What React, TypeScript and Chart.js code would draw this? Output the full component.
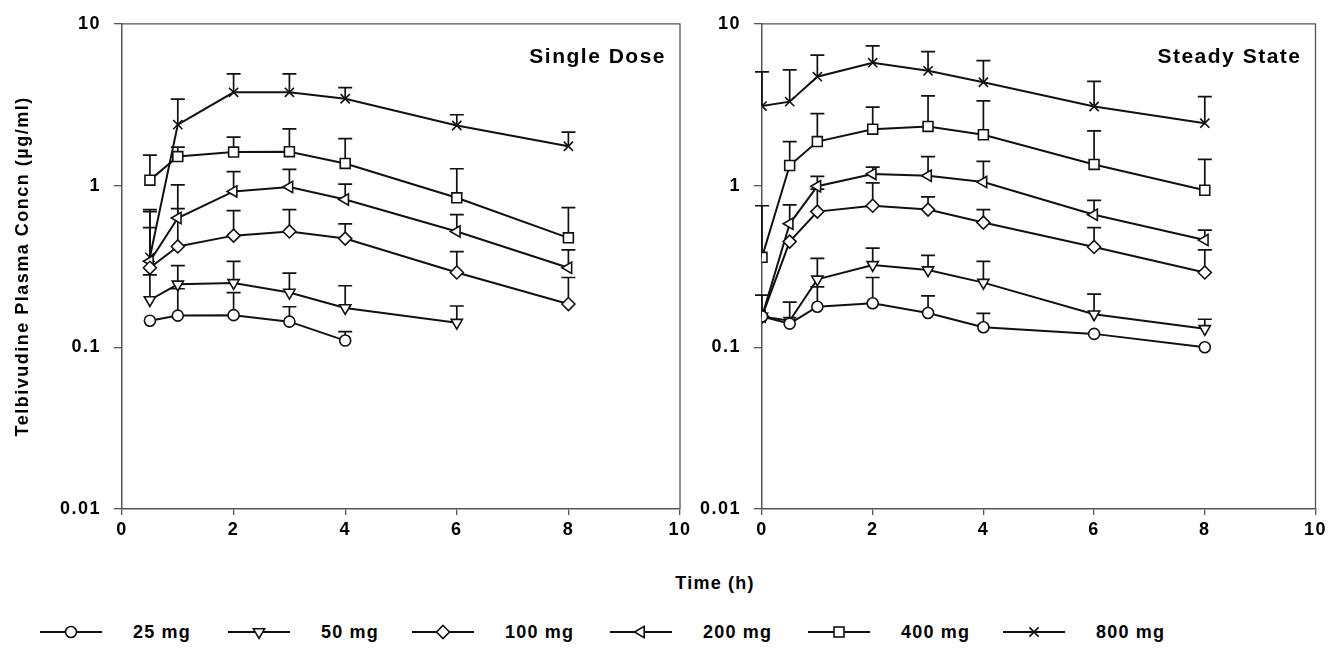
import React, { useEffect, useRef } from 'react';
import { Chart, registerables } from 'chart.js';

Chart.register(...registerables);

// ---------- data ----------
const doseLabels = ['25 mg', '50 mg', '100 mg', '200 mg', '400 mg', '800 mg'];
const yTickValues = [0.01, 0.1, 1, 10];
const yTickLabels = ['0.01', '0.1', '1', '10'];
const xTickStep = 2;
const yTitle = 'Telbivudine Plasma Concn (\u00b5g/ml)';
const xTitle = 'Time (h)';

// Single dose
const singleTimes = [0.5, 1, 2, 3, 4, 6, 8];
const single25Mean = [0.146, 0.157, 0.158, 0.144, 0.11, null, null];
const single25Upper = [null, 0.23, 0.218, 0.178, 0.125, null, null];
const single50Mean = [0.196, 0.245, 0.25, 0.218, 0.175, 0.142, null];
const single50Upper = [0.28, 0.32, 0.34, 0.287, 0.24, 0.18, null];
const single100Mean = [0.31, 0.42, 0.49, 0.52, 0.47, 0.29, 0.185];
const single100Upper = [0.55, 0.72, 0.7, 0.71, 0.58, 0.39, 0.27];
const single200Mean = [0.34, 0.63, 0.92, 0.98, 0.82, 0.52, 0.31];
const single200Upper = [0.69, 1.01, 1.22, 1.26, 1.02, 0.66, 0.4];
const single400Mean = [1.08, 1.51, 1.61, 1.62, 1.37, 0.84, 0.475];
const single400Upper = [1.54, 1.73, 1.99, 2.24, 1.95, 1.27, 0.73];
const single800Mean = [0.36, 2.38, 3.77, 3.77, 3.44, 2.35, 1.75];
const single800Upper = [0.71, 3.42, 4.9, 4.9, 4.03, 2.74, 2.14];

// Steady state
const steadyTimes = [0, 0.5, 1, 2, 3, 4, 6, 8];
const steady25Mean = [0.155, 0.14, 0.178, 0.187, 0.163, 0.133, 0.121, 0.1];
const steady25Upper = [null, null, 0.236, 0.27, 0.208, 0.162, null, null];
const steady50Mean = [0.155, 0.146, 0.263, 0.323, 0.3, 0.251, 0.16, 0.13];
const steady50Upper = [null, 0.19, 0.355, 0.41, 0.37, 0.34, 0.213, 0.149];
const steady100Mean = [0.155, 0.45, 0.69, 0.75, 0.71, 0.59, 0.417, 0.29];
const steady100Upper = [null, null, 0.95, 1.04, 0.85, 0.71, 0.55, 0.4];
const steady200Mean = [0.155, 0.58, 0.99, 1.18, 1.15, 1.05, 0.66, 0.46];
const steady200Upper = [0.21, 0.76, 1.14, 1.3, 1.51, 1.41, 0.81, 0.53];
const steady400Mean = [0.36, 1.33, 1.87, 2.23, 2.32, 2.06, 1.35, 0.935];
const steady400Upper = [0.75, 1.87, 2.78, 3.05, 3.58, 3.34, 2.18, 1.45];
const steady800Mean = [3.1, 3.3, 4.71, 5.75, 5.12, 4.35, 3.08, 2.43];
const steady800Upper = [5.05, 5.19, 6.4, 7.3, 6.72, 5.92, 4.4, 3.55];

// ---------- styles ----------
const FONT = '"Liberation Sans", Arial, sans-serif';
const INK = '#111111';
const AXIS = '#555555';
const markers = [
  { style: 'circle', rotation: 0, radius: 5.5 },
  { style: 'triangle', rotation: 180, radius: 6.5 },
  { style: 'rectRot', rotation: 0, radius: 6.5 },
  { style: 'triangle', rotation: 270, radius: 6.5 },
  { style: 'rect', rotation: 0, radius: 7 },
  { style: 'crossRot', rotation: 0, radius: 6.5 },
];
const legendLeft = [40, 228, 412, 610, 808, 1003];

function buildDatasets(times: number[], means: (number | null)[][], uppers: (number | null)[][]) {
  return means.map((m, k) => ({
    label: doseLabels[k],
    data: times.flatMap((t, i) => (m[i] == null ? [] : [{ x: t, y: m[i], up: uppers[k][i] }])),
    borderColor: INK,
    borderWidth: 2,
    tension: 0,
    fill: false,
    pointStyle: markers[k].style,
    pointRotation: markers[k].rotation,
    pointRadius: markers[k].radius,
    pointBackgroundColor: '#ffffff',
    pointBorderColor: INK,
    pointBorderWidth: 1.6,
  }));
}

const spacingPlugin = {
  id: 'spacing',
  beforeLayout(chart: any) { chart.ctx.letterSpacing = '1.5px'; },
  beforeDraw(chart: any) { chart.ctx.letterSpacing = '1.5px'; },
};

const errorBarPlugin = {
  id: 'errorBars',
  beforeDatasetsDraw(chart: any) {
    const ctx = chart.ctx;
    const ys = chart.scales.y;
    chart.data.datasets.forEach((ds: any, di: number) => {
      const meta = chart.getDatasetMeta(di);
      meta.data.forEach((pt: any, i: number) => {
        const up = ds.data[i].up;
        if (up == null) return;
        const yTop = ys.getPixelForValue(up);
        ctx.save();
        ctx.strokeStyle = INK;
        ctx.lineWidth = 1.7;
        ctx.beginPath();
        ctx.moveTo(pt.x, pt.y);
        ctx.lineTo(pt.x, yTop);
        ctx.moveTo(pt.x - 7, yTop);
        ctx.lineTo(pt.x + 7, yTop);
        ctx.stroke();
        ctx.restore();
      });
    });
  },
};

const framePlugin = {
  id: 'frame',
  afterDraw(chart: any, _args: any, opts: any) {
    const { ctx, chartArea } = chart;
    ctx.save();
    ctx.strokeStyle = AXIS;
    ctx.lineWidth = 1.3;
    ctx.beginPath();
    ctx.moveTo(chartArea.left, chartArea.top);
    ctx.lineTo(chartArea.right, chartArea.top);
    ctx.lineTo(chartArea.right, chartArea.bottom);
    ctx.stroke();
    ctx.fillStyle = '#000';
    ctx.font = `bold 21px ${FONT}`;
    ctx.letterSpacing = '1.5px';
    ctx.textAlign = 'right';
    ctx.textBaseline = 'alphabetic';
    ctx.fillText(opts.text, chartArea.right - 14, chartArea.top + 39);
    ctx.restore();
  },
};

type PanelProps = {
  left: number;
  width: number;
  height: number;
  yAxisWidth: number;
  padRight: number;
  times: number[];
  means: (number | null)[][];
  uppers: (number | null)[][];
  label: string;
  showYTitle: boolean;
};

function Panel(p: PanelProps) {
  const ref = useRef<HTMLCanvasElement>(null);
  useEffect(() => {
    if (!ref.current) return;
    const plotBottom = 509;
    const chart = new Chart(ref.current, {
      type: 'line',
      data: { datasets: buildDatasets(p.times, p.means, p.uppers) as any },
      plugins: [spacingPlugin, errorBarPlugin, framePlugin],
      options: {
        responsive: false,
        animation: false,
        devicePixelRatio: 1,
        layout: { padding: { top: 22, right: p.padRight, left: 0, bottom: 0 } },
        plugins: {
          legend: { display: false },
          tooltip: { enabled: false },
          frame: { text: p.label },
        } as any,
        scales: {
          x: {
            type: 'linear',
            min: 0,
            max: 10,
            ticks: { stepSize: xTickStep, color: '#000', font: { family: FONT, size: 18, weight: 'bold' }, padding: 4 },
            grid: { drawOnChartArea: false, drawTicks: true, tickLength: 6, color: AXIS, tickColor: AXIS, lineWidth: 1.3 },
            border: { display: true, color: AXIS, width: 1.5 },
            afterFit: (s: any) => { s.height = p.height - plotBottom; },
          },
          y: {
            type: 'logarithmic',
            min: 0.01,
            max: 10,
            afterBuildTicks: (s: any) => { s.ticks = yTickValues.map((v) => ({ value: v })); },
            ticks: {
              color: '#000',
              font: { family: FONT, size: 18, weight: 'bold' },
              padding: 13,
              callback: (_v: any, idx: number) => yTickLabels[idx],
            },
            grid: { drawOnChartArea: false, drawTicks: true, tickLength: 8, color: AXIS, tickColor: AXIS, lineWidth: 1.3 },
            border: { display: true, color: AXIS, width: 1.5 },
            title: {
              display: p.showYTitle,
              text: yTitle,
              color: '#000',
              font: { family: FONT, size: 18, weight: 'bold' },
              padding: { top: 12, bottom: 0 },
            },
            afterFit: (s: any) => { s.width = p.yAxisWidth; },
          },
        },
      } as any,
    });
    return () => chart.destroy();
  }, []);
  return (
    <canvas
      ref={ref}
      width={p.width}
      height={p.height}
      style={{ position: 'absolute', left: p.left, top: 0, width: p.width, height: p.height }}
    />
  );
}

function LegendMarker({ k }: { k: number }) {
  const cx = 31;
  const cy = 10;
  const common = { fill: '#fff', stroke: INK, strokeWidth: 1.6 };
  let shape: React.ReactNode = null;
  if (k === 0) shape = <circle cx={cx} cy={cy} r={5.5} {...common} />;
  if (k === 1) shape = <polygon points={`${cx - 5.6},${cy - 3.2} ${cx + 5.6},${cy - 3.2} ${cx},${cy + 6.5}`} {...common} />;
  if (k === 2) shape = <polygon points={`${cx},${cy - 6.5} ${cx + 6.5},${cy} ${cx},${cy + 6.5} ${cx - 6.5},${cy}`} {...common} />;
  if (k === 3) shape = <polygon points={`${cx - 6.5},${cy} ${cx + 3.2},${cy - 5.6} ${cx + 3.2},${cy + 5.6}`} {...common} />;
  if (k === 4) shape = <rect x={cx - 5} y={cy - 5} width={10} height={10} {...common} />;
  if (k === 5)
    shape = (
      <path d={`M${cx - 4.6},${cy - 4.6} L${cx + 4.6},${cy + 4.6} M${cx - 4.6},${cy + 4.6} L${cx + 4.6},${cy - 4.6}`} stroke={INK} strokeWidth={1.6} />
    );
  return (
    <svg width={62} height={20} style={{ position: 'absolute', left: 0, top: 0 }}>
      <line x1={0} y1={cy} x2={62} y2={cy} stroke={INK} strokeWidth={2} />
      {shape}
    </svg>
  );
}

export default function App() {
  const textStyle: React.CSSProperties = {
    fontFamily: FONT,
    fontWeight: 'bold',
    fontSize: 18,
    letterSpacing: '1.2px',
    color: '#000',
    whiteSpace: 'nowrap',
    lineHeight: '20px',
  };
  return (
    <div style={{ position: 'fixed', left: 0, top: 0, width: 1331, height: 651, background: '#fff', overflow: 'hidden' }}>
      <Panel
        left={0}
        width={700}
        height={560}
        yAxisWidth={122}
        padRight={20}
        times={singleTimes}
        means={[single25Mean, single50Mean, single100Mean, single200Mean, single400Mean, single800Mean]}
        uppers={[single25Upper, single50Upper, single100Upper, single200Upper, single400Upper, single800Upper]}
        label="Single Dose"
        showYTitle={true}
      />
      <Panel
        left={700}
        width={631}
        height={560}
        yAxisWidth={62}
        padRight={12}
        times={steadyTimes}
        means={[steady25Mean, steady50Mean, steady100Mean, steady200Mean, steady400Mean, steady800Mean]}
        uppers={[steady25Upper, steady50Upper, steady100Upper, steady200Upper, steady400Upper, steady800Upper]}
        label="Steady State"
        showYTitle={false}
      />
      <div style={{ ...textStyle, position: 'absolute', left: 615, width: 200, top: 573, textAlign: 'center' }}>{xTitle}</div>
      {doseLabels.map((lab, k) => (
        <div key={lab} style={{ position: 'absolute', left: legendLeft[k], top: 622, height: 20, width: 180 }}>
          <LegendMarker k={k} />
          <span style={{ ...textStyle, position: 'absolute', left: 93, top: 0 }}>{lab}</span>
        </div>
      ))}
    </div>
  );
}
